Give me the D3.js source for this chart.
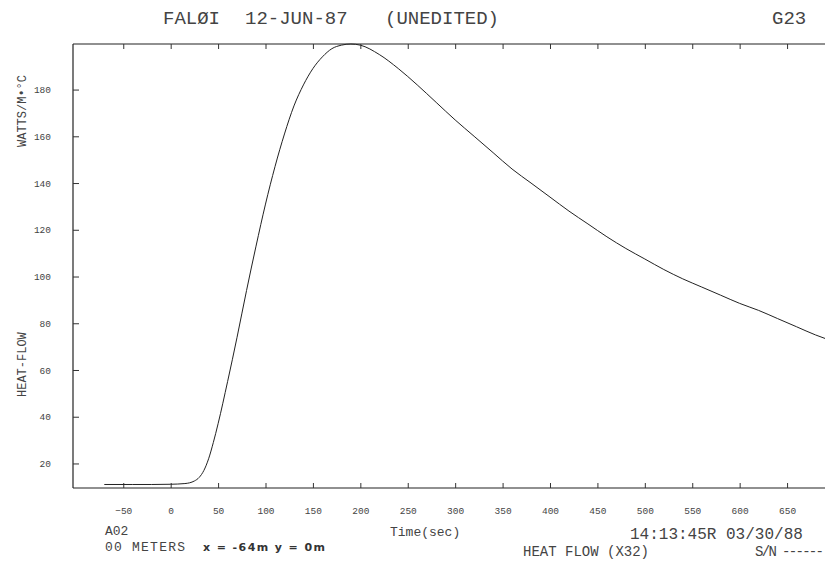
<!DOCTYPE html>
<html><head><meta charset="utf-8">
<script src="https://cdn.jsdelivr.net/npm/d3@7"></script>
<style>
body{margin:0;background:#fff;}
svg{display:block;}
.pl{font-family:"Liberation Mono","DejaVu Sans Mono",monospace;fill:#444;}
</style></head>
<body><svg id="c" width="825" height="562"></svg>
<script>
const timeSec = [-70,-40,-20,0,15,25,30,35,40,45,50,60,70,80,90,100,110,120,130,140,150,160,170,180,190,200,220,240,260,280,300,320,340,360,380,400,420,440,460,480,500,520,540,560,580,600,620,640,660,680,690];
const heatFlow = [11,11,11,11.1,11.4,12.5,14,17,22,29,37,55,74,94,113,131,147,161,173,182,189,194,197.5,199,199.5,199,195,189,182,174.5,167,160,153,146,140,134,128,122.5,117,112,107.5,103,99,95.5,92,88.5,85.5,82,78.5,75,73.5];
const xTicks = [-50,0,50,100,150,200,250,300,350,400,450,500,550,600,650];
const yTicks = [20,40,60,80,100,120,140,160,180];
const xDomain = [-103, 690];
const yDomain = [9.5, 199.5];

const svg = d3.select("#c");
const L=73, R=825, T=44, B=488;
const x = d3.scaleLinear().domain(xDomain).range([L,R]);
const y = d3.scaleLinear().domain(yDomain).range([B,T]);

// frame lines
const frame = svg.append("g").attr("stroke","#222").attr("stroke-width",1.2);
frame.append("line").attr("x1",L).attr("x2",R).attr("y1",T).attr("y2",T);
frame.append("line").attr("x1",L).attr("x2",R).attr("y1",B).attr("y2",B);
frame.append("line").attr("x1",L).attr("x2",L).attr("y1",T).attr("y2",B);

// axes
const ax = svg.append("g").attr("transform",`translate(${L},0)`)
  .call(d3.axisLeft(y).tickValues(yTicks).tickSizeInner(-6).tickSizeOuter(0).tickPadding(22).tickFormat(d3.format("d")));
const bx = svg.append("g").attr("transform",`translate(0,${B})`)
  .call(d3.axisBottom(x).tickValues(xTicks).tickSizeInner(-5).tickSizeOuter(0).tickPadding(19).tickFormat(d3.format("d")));
const tx = svg.append("g").attr("transform",`translate(0,${T})`)
  .call(d3.axisTop(x).tickValues(xTicks).tickSizeInner(-5).tickSizeOuter(0).tickFormat(""));
[ax,bx,tx].forEach(g=>{
  g.select(".domain").remove();
  g.selectAll(".tick line").attr("stroke","#333").attr("stroke-width",1);
  g.selectAll(".tick text").attr("class","pl").style("font-size","9.5px").attr("fill","#555");
});

// curve
const pts = timeSec.map((t,i)=>[t,heatFlow[i]]);
svg.append("path").datum(pts)
  .attr("fill","none").attr("stroke","#222").attr("stroke-width",1)
  .attr("d", d3.line().x(d=>x(d[0])).y(d=>y(d[1])).curve(d3.curveMonotoneX));

// header
const hdr = [["FALØI",163],["12-JUN-87",245],["(UNEDITED)",385],["G23",772]];
hdr.forEach(([s,px])=>svg.append("text").attr("class","pl").attr("x",px).attr("y",24)
  .style("font-size","19px").text(s));

// y labels rotated
svg.append("text").attr("class","pl").attr("transform","translate(26,147) rotate(-90)")
  .style("font-size","12px").text("WATTS/M•°C");
svg.append("text").attr("class","pl").attr("transform","translate(26,397) rotate(-90)")
  .style("font-size","12px").text("HEAT-FLOW");

// footer
svg.append("text").attr("class","pl").attr("x",105).attr("y",535).style("font-size","13px").text("A02");
svg.append("text").attr("class","pl").attr("x",105).attr("y",551).style("font-size","13px").attr("textLength",80).text("00 METERS");
svg.append("text").attr("x",203).attr("y",551).style("font-size","11px").style("font-family","DejaVu Sans").style("font-weight","bold").attr("fill","#333").attr("textLength",122).text("x = -64m y = 0m");
svg.append("text").attr("class","pl").attr("x",390).attr("y",536).style("font-size","13px").text("Time(sec)");
svg.append("text").attr("class","pl").attr("x",630).attr("y",539).style("font-size","16px").text("14:13:45R 03/30/88");
svg.append("text").attr("class","pl").attr("x",523).attr("y",556).style("font-size","14px").text("HEAT FLOW (X32)");
svg.append("text").attr("class","pl").attr("x",755).attr("y",556).style("font-size","14px").attr("textLength",69).text("S/N ------");
</script></body></html>
